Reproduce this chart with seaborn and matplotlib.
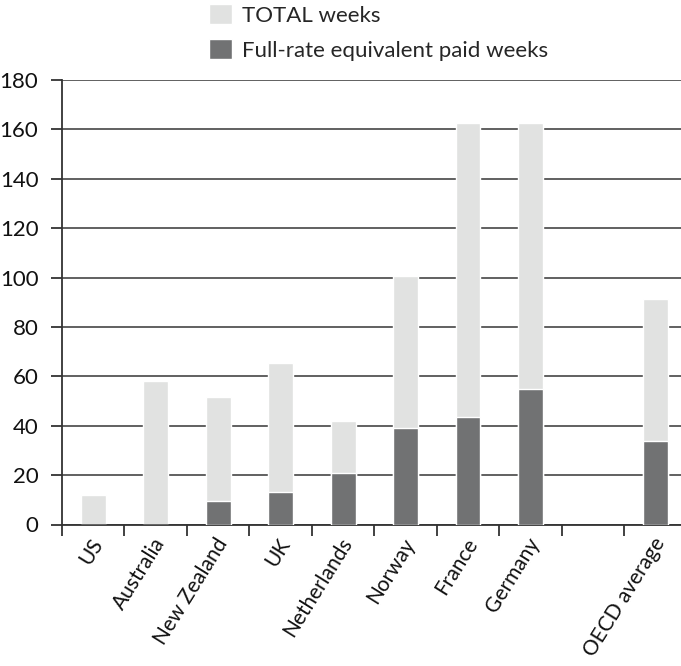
import matplotlib
matplotlib.use("Agg")
import matplotlib.pyplot as plt
import matplotlib.transforms as mtransforms
import seaborn as sns
import pandas as pd
import numpy as np

categories = ["US", "Australia", "New Zealand", "UK", "Netherlands",
              "Norway", "France", "Germany", "", "OECD average"]
data_categories = ["US", "Australia", "New Zealand", "UK", "Netherlands",
                   "Norway", "France", "Germany", "OECD average"]
total_weeks = [12, 58, 51.5, 65.5, 42, 100.5, 162.5, 162.5, 91.5]
fullrate_weeks = [0, 0, 9.5, 13, 21, 39, 43.5, 55, 34]
yticks = [0, 20, 40, 60, 80, 100, 120, 140, 160, 180]

df = pd.DataFrame({"country": data_categories,
                   "total": total_weeks,
                   "fullrate": fullrate_weeks})

sns.set_theme(style="white")
plt.rcParams["font.family"] = ["Lato", "DejaVu Sans"]

LIGHT = "#e1e2e1"
DARK = "#717273"
FS = 16
XFS = 15
LFS = 16

fig = plt.figure(figsize=(6.81, 6.66), dpi=100)
ax = fig.add_axes([62 / 681, 141.5 / 666, (681 - 62) / 681, (524.5 - 80) / 666])

sns.barplot(data=df, x="country", y="total", order=categories, color=LIGHT,
            width=0.4, saturation=1, ax=ax, label="TOTAL weeks", zorder=2)
sns.barplot(data=df, x="country", y="fullrate", order=categories, color=DARK,
            width=0.4, saturation=1, ax=ax, label="Full-rate equivalent paid weeks", zorder=3)

ax.set_xlim(-0.5, 9.41)
ax.set_ylim(0, 180)
ax.set_yticks(yticks)
ax.set_yticklabels([str(v) for v in yticks], fontsize=FS, color="#111111")
ax.yaxis.grid(True, color="#606060", linewidth=1.4, zorder=0)
ax.set_axisbelow(True)
ax.xaxis.grid(False)

ax.set_xticks(range(len(categories)))
ax.set_xticklabels(categories, fontsize=XFS, rotation=58, ha="right",
                   va="center", rotation_mode="anchor", color="#111111")
ax.tick_params(axis="x", which="major", length=0, pad=11)
offset = mtransforms.ScaledTranslation(5 / 100, 0, fig.dpi_scale_trans)
for lbl in ax.get_xticklabels():
    lbl.set_transform(lbl.get_transform() + offset)
ax.set_xticks(np.arange(-0.5, len(categories) - 1, 1.0), minor=True)
ax.tick_params(axis="x", which="minor", length=8, width=1.3, color="#333333",
               direction="out", bottom=True)
ax.tick_params(axis="y", which="major", length=8, width=1.3, color="#333333",
               direction="out", left=True, pad=9)

ax.set_xlabel("")
ax.set_ylabel("")
for s in ["top", "right"]:
    ax.spines[s].set_visible(False)
for s in ["left", "bottom"]:
    ax.spines[s].set_color("#333333")
    ax.spines[s].set_linewidth(1.3)

if ax.get_legend() is not None:
    ax.get_legend().remove()
handles, labels = ax.get_legend_handles_labels()
fig.legend(handles, labels, loc="upper left", bbox_to_anchor=(209 / 681, 1 - 4 / 666),
           frameon=False, fontsize=LFS, handlelength=1.04, handleheight=1.04,
           handletextpad=0.45, labelspacing=0.58, borderaxespad=0, borderpad=0)

fig.savefig("out.png", dpi=100)
